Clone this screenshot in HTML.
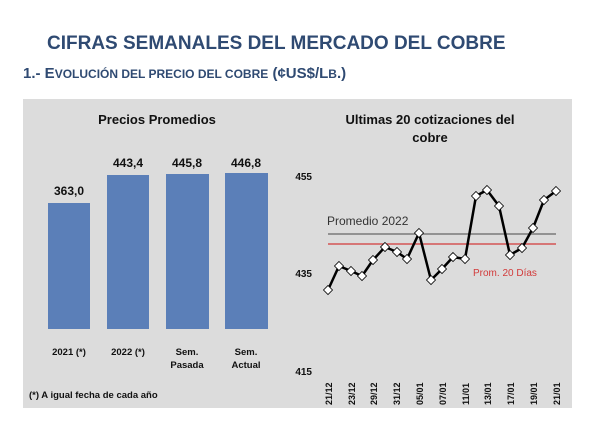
<!DOCTYPE html>
<html><head><meta charset="utf-8"><style>
body{margin:0;width:600px;height:417px;background:#fff;overflow:hidden;font-family:"Liberation Sans",sans-serif}
</style></head><body>
<svg width="600" height="417" xmlns="http://www.w3.org/2000/svg" font-family="Liberation Sans, sans-serif">
<text x="47" y="49" font-size="19" font-weight="bold" fill="#2f4a72">CIFRAS SEMANALES DEL MERCADO DEL COBRE</text>
<text x="23" y="78" font-size="15" font-weight="bold" fill="#2f4a72">1.- E<tspan font-size="12">VOLUCIÓN DEL PRECIO DEL COBRE</tspan> (¢US$/L<tspan font-size="12">B</tspan>.)</text>
<rect x="23" y="99" width="549" height="309" fill="#dcdcdc"/>
<text x="157" y="124" font-size="13" font-weight="bold" text-anchor="middle" fill="#111">Precios Promedios</text>
<g fill="#5b7fb8">
<rect x="48" y="203" width="42" height="126"/>
<rect x="107" y="175" width="42" height="154"/>
<rect x="166" y="174" width="43" height="155"/>
<rect x="225" y="173" width="43" height="156"/>
</g>
<g font-size="12" font-weight="bold" text-anchor="middle" fill="#111">
<text x="69" y="195">363,0</text><text x="128" y="167">443,4</text><text x="187" y="167">445,8</text><text x="246" y="167">446,8</text>
</g>
<g font-size="9.5" font-weight="bold" text-anchor="middle" fill="#111">
<text x="69" y="355">2021 (*)</text><text x="128" y="355">2022 (*)</text>
<text x="187" y="355">Sem.</text><text x="187" y="368">Pasada</text>
<text x="246" y="355">Sem.</text><text x="246" y="368">Actual</text>
<text x="29" y="398" text-anchor="start">(*) A igual fecha de cada año</text>
</g>
<text x="430" y="124" font-size="13" font-weight="bold" text-anchor="middle" fill="#111">Ultimas 20 cotizaciones del</text>
<text x="430" y="142" font-size="13" font-weight="bold" text-anchor="middle" fill="#111">cobre</text>
<g font-size="10" font-weight="bold" fill="#111" text-anchor="end">
<text x="312" y="180">455</text><text x="312" y="277">435</text><text x="312" y="375">415</text>
</g>
<line x1="328" y1="234" x2="556" y2="234" stroke="#666" stroke-width="1.2"/>
<line x1="328" y1="244" x2="556" y2="244" stroke="#d23a3a" stroke-width="1.2"/>
<text x="327" y="225" font-size="12" fill="#333">Promedio 2022</text>
<text x="473" y="276" font-size="10" fill="#d23a3a">Prom. 20 Días</text>
<polyline fill="none" stroke="#000" stroke-width="2.5" stroke-linejoin="round" points="328,290 339,266 351,271 362,276 373,260 385,247 397,252 407,259 419,233 431,280 442,269 453,257 465,259 476,196 487,190 499,206 510,255 522,248 533,228 544,200 556,191"/>
<g fill="#fff" stroke="#000" stroke-width="0.8">
<path id="d" d="M0,-4.5L4.5,0L0,4.5L-4.5,0Z" transform="translate(328,290)"/>
<path d="M0,-4.5L4.5,0L0,4.5L-4.5,0Z" transform="translate(339,266)"/>
<path d="M0,-4.5L4.5,0L0,4.5L-4.5,0Z" transform="translate(351,271)"/>
<path d="M0,-4.5L4.5,0L0,4.5L-4.5,0Z" transform="translate(362,276)"/>
<path d="M0,-4.5L4.5,0L0,4.5L-4.5,0Z" transform="translate(373,260)"/>
<path d="M0,-4.5L4.5,0L0,4.5L-4.5,0Z" transform="translate(385,247)"/>
<path d="M0,-4.5L4.5,0L0,4.5L-4.5,0Z" transform="translate(397,252)"/>
<path d="M0,-4.5L4.5,0L0,4.5L-4.5,0Z" transform="translate(407,259)"/>
<path d="M0,-4.5L4.5,0L0,4.5L-4.5,0Z" transform="translate(419,233)"/>
<path d="M0,-4.5L4.5,0L0,4.5L-4.5,0Z" transform="translate(431,280)"/>
<path d="M0,-4.5L4.5,0L0,4.5L-4.5,0Z" transform="translate(442,269)"/>
<path d="M0,-4.5L4.5,0L0,4.5L-4.5,0Z" transform="translate(453,257)"/>
<path d="M0,-4.5L4.5,0L0,4.5L-4.5,0Z" transform="translate(465,259)"/>
<path d="M0,-4.5L4.5,0L0,4.5L-4.5,0Z" transform="translate(476,196)"/>
<path d="M0,-4.5L4.5,0L0,4.5L-4.5,0Z" transform="translate(487,190)"/>
<path d="M0,-4.5L4.5,0L0,4.5L-4.5,0Z" transform="translate(499,206)"/>
<path d="M0,-4.5L4.5,0L0,4.5L-4.5,0Z" transform="translate(510,255)"/>
<path d="M0,-4.5L4.5,0L0,4.5L-4.5,0Z" transform="translate(522,248)"/>
<path d="M0,-4.5L4.5,0L0,4.5L-4.5,0Z" transform="translate(533,228)"/>
<path d="M0,-4.5L4.5,0L0,4.5L-4.5,0Z" transform="translate(544,200)"/>
<path d="M0,-4.5L4.5,0L0,4.5L-4.5,0Z" transform="translate(556,191)"/>
</g>
<g font-size="9" font-weight="bold" fill="#111" text-anchor="start">
<text transform="translate(332,405) rotate(-90)">21/12</text>
<text transform="translate(355,405) rotate(-90)">23/12</text>
<text transform="translate(377,405) rotate(-90)">29/12</text>
<text transform="translate(400,405) rotate(-90)">31/12</text>
<text transform="translate(423,405) rotate(-90)">05/01</text>
<text transform="translate(446,405) rotate(-90)">07/01</text>
<text transform="translate(469,405) rotate(-90)">11/01</text>
<text transform="translate(491,405) rotate(-90)">13/01</text>
<text transform="translate(514,405) rotate(-90)">17/01</text>
<text transform="translate(537,405) rotate(-90)">19/01</text>
<text transform="translate(560,405) rotate(-90)">21/01</text>
</g>
</svg>
</body></html>
